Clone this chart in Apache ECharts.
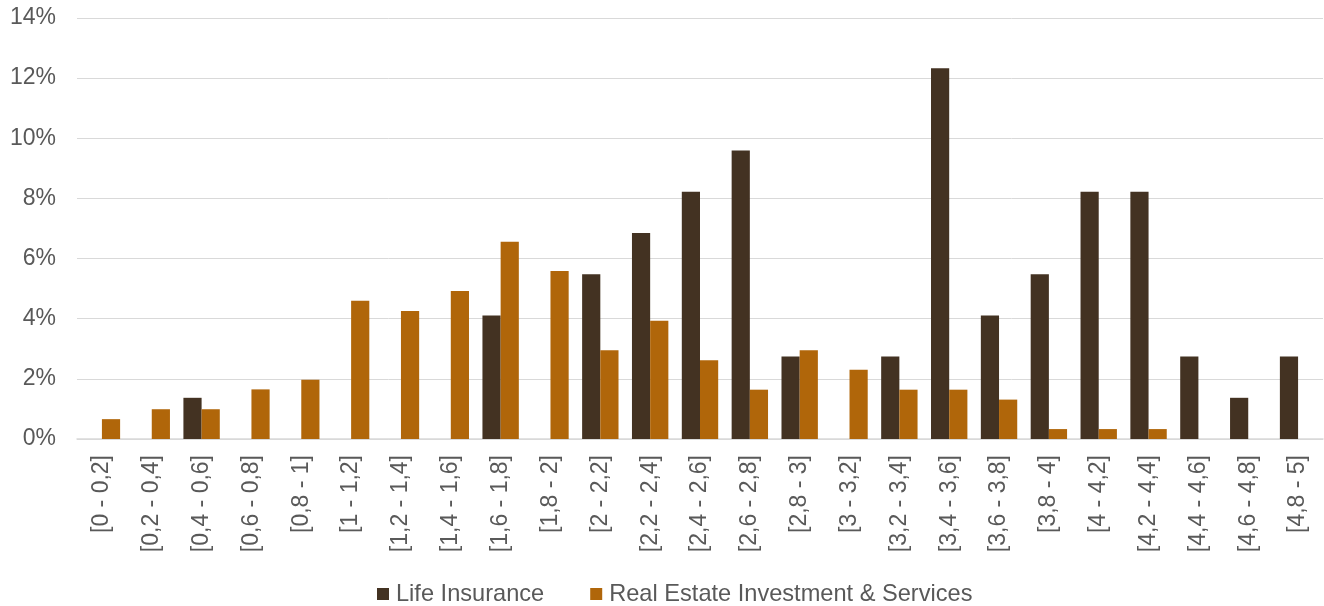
<!DOCTYPE html>
<html>
<head>
<meta charset="utf-8">
<script src="https://cdn.jsdelivr.net/npm/echarts@6/dist/echarts.min.js"></script>
<style>
html,body{margin:0;padding:0;background:#fff;}
#chart{width:1324px;height:606px;}
</style>
</head>
<body>
<div id="chart"></div>
<script>
var categories = ["[0 - 0,2]","[0,2 - 0,4]","[0,4 - 0,6]","[0,6 - 0,8]","[0,8 - 1]","[1 - 1,2]","[1,2 - 1,4]","[1,4 - 1,6]","[1,6 - 1,8]","[1,8 - 2]","[2 - 2,2]","[2,2 - 2,4]","[2,4 - 2,6]","[2,6 - 2,8]","[2,8 - 3]","[3 - 3,2]","[3,2 - 3,4]","[3,4 - 3,6]","[3,6 - 3,8]","[3,8 - 4]","[4 - 4,2]","[4,2 - 4,4]","[4,4 - 4,6]","[4,6 - 4,8]","[4,8 - 5]"];
var lifeInsurance = [0,0,1.37,0,0,0,0,0,4.11,0,5.48,6.85,8.22,9.59,2.74,0,2.74,12.33,4.11,5.48,8.22,8.22,2.74,1.37,2.74];
var realEstate = [0.66,0.99,0.99,1.65,1.97,4.6,4.26,4.92,6.56,5.59,2.95,3.93,2.62,1.64,2.95,2.3,1.64,1.64,1.31,0.33,0.33,0.33,0,0,0];
var yTicks = [0,2,4,6,8,10,12,14];

var font = "'Liberation Sans', Arial, sans-serif";
var chart = echarts.init(document.getElementById('chart'));
chart.setOption({
  animation: false,
  backgroundColor: '#fff',
  textStyle: {fontFamily: font},
  grid: {left: 77, right: 1, top: 18, bottom: 167, containLabel: false, outerBoundsMode: 'none'},
  legend: {
    left: 377, top: 582, padding: 0,
    itemWidth: 12, itemHeight: 12, itemGap: 46,
    icon: 'rect',
    textStyle: {fontFamily: font, fontSize: 23.6, color: '#595959', padding: [0,0,0,2]},
    data: ['Life Insurance', 'Real Estate Investment & Services']
  },
  xAxis: {
    type: 'category',
    data: categories,
    axisTick: {show: false},
    axisLine: {lineStyle: {color: '#d9d9d9', width: 1.5}},
    axisLabel: {rotate: 90, margin: 16, fontSize: 23, color: '#595959', fontFamily: font, interval: 0}
  },
  yAxis: {
    type: 'value',
    min: yTicks[0], max: yTicks[yTicks.length-1], interval: 2,
    axisLine: {show: false}, axisTick: {show: false},
    splitLine: {lineStyle: {color: '#d9d9d9', width: 1}},
    axisLabel: {margin: 21, fontSize: 23, color: '#595959', fontFamily: font, formatter: '{value}%'}
  },
  series: [
    {name: 'Life Insurance', type: 'bar', data: lifeInsurance, barGap: '0%', barCategoryGap: '27%',
     itemStyle: {color: '#433222'}},
    {name: 'Real Estate Investment & Services', type: 'bar', data: realEstate, barGap: '0%', barCategoryGap: '27%',
     itemStyle: {color: '#B0660A'}}
  ]
});
</script>
</body>
</html>
